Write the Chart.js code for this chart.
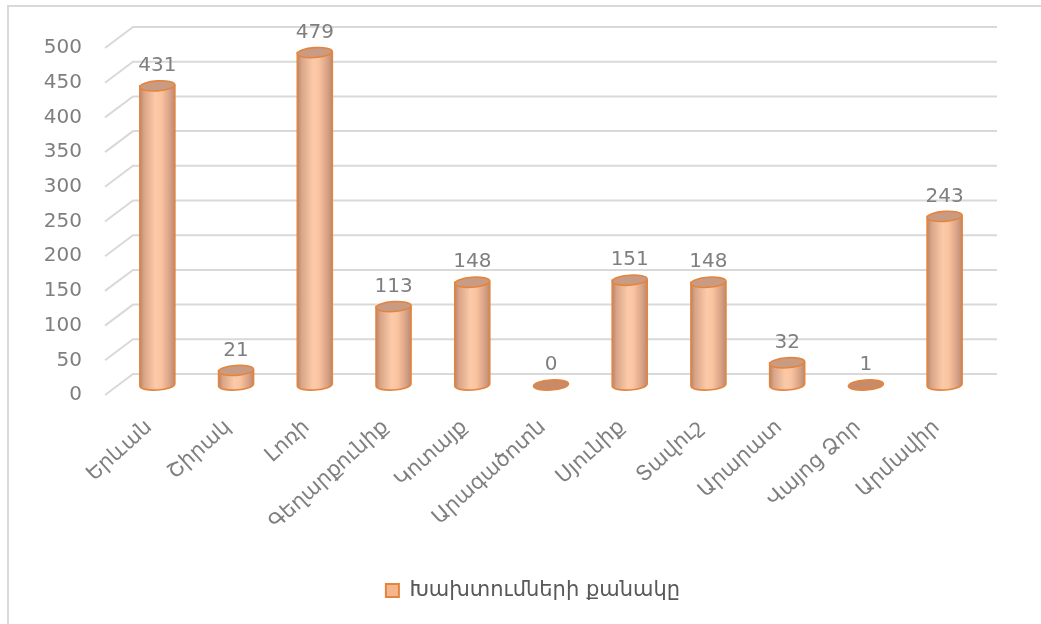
<!DOCTYPE html>
<html>
<head>
<meta charset="utf-8">
<script src="https://cdn.jsdelivr.net/npm/chart.js@4/dist/chart.umd.min.js"></script>
<style>
  html, body { margin: 0; padding: 0; background: #fff; }
  #wrap { position: relative; width: 1041px; height: 624px; }
  #frame { position: absolute; left: 7px; top: 5px; width: 1100px; height: 700px; border: 2px solid #d9d9d9; box-sizing: border-box; }
  canvas { position: absolute; left: 0; top: 0; }
</style>
</head>
<body>
<div id="wrap">
  <div id="frame"></div>
  <canvas id="chart" width="1041" height="624"></canvas>
</div>
<script>
// === DATA ===
const REGIONS = ["Երևան", "Շիրակ", "Լոռի", "Գեղարքունիք", "Կոտայք", "Արագածոտն", "Սյունիք", "Տավուշ", "Արարատ", "Վայոց Ձոր", "Արմավիր"];
const VIOLATIONS = [431, 21, 479, 113, 148, 0, 151, 148, 32, 1, 243];
const Y_TICKS = [0, 50, 100, 150, 200, 250, 300, 350, 400, 450, 500];
const SERIES_LABEL = "Խախտումների քանակը";

const FONT = "'DejaVu Sans', sans-serif";
const TEXT = "#7f7f7f";
const GRID = "#d9d9d9";
const EDGE = "#e4853d";

// back wall gridlines + perspective diagonals
const wallGrid = {
    id: "wallGrid",
    beforeDatasetsDraw(chart) {
        const { ctx, chartArea, scales } = chart;
        ctx.save();
        ctx.strokeStyle = GRID;
        ctx.lineWidth = 2;
        scales.y.ticks.forEach((t) => {
            const y = scales.y.getPixelForValue(t.value);
            ctx.beginPath();
            ctx.moveTo(chartArea.left - 13, y + 10);
            ctx.lineTo(chartArea.left + 15, y - 11);
            ctx.lineTo(chartArea.right + 13, y - 11);
            ctx.stroke();
        });
        ctx.restore();
    },
};

// cylinders drawn on the bar elements
const cylinders = {
    id: "cylinders",
    afterLayout(chart) {
        // legend sits a bit right of the plot centre
        chart.legend.left += 41;
        chart.legend.right += 41;
    },
    beforeDatasetDraw() {
        return false;
    },
    afterDatasetsDraw(chart) {
        const { ctx } = chart;
        const meta = chart.getDatasetMeta(0);
        const ds = chart.data.datasets[0];
        meta.data.forEach((bar, i) => {
            const { x, y, base, width } = bar.getProps(["x", "y", "base", "width"], true);
            const rx = width / 2;
            const ry = 5;
            const tilt = -0.07;
            ctx.save();
            ctx.lineWidth = 1.6;
            ctx.strokeStyle = EDGE;
            if (base - y > 2) {
                const g = ctx.createLinearGradient(x - rx, 0, x + rx, 0);
                g.addColorStop(0, "#b5866e");
                g.addColorStop(0.12, "#d9a487");
                g.addColorStop(0.45, "#fccaa9");
                g.addColorStop(0.62, "#f9c3a0");
                g.addColorStop(0.88, "#d49e82");
                g.addColorStop(1, "#b88a74");
                ctx.beginPath();
                ctx.moveTo(x - rx, y);
                ctx.lineTo(x - rx, base);
                ctx.ellipse(x, base, rx, ry, tilt, Math.PI, 0, true);
                ctx.lineTo(x + rx, y);
                ctx.closePath();
                ctx.fillStyle = g;
                ctx.fill();
                ctx.stroke();
                ctx.beginPath();
                ctx.ellipse(x, y, rx, ry, tilt, 0, Math.PI * 2);
                ctx.fillStyle = "#c99b83";
                ctx.fill();
                ctx.stroke();
            } else {
                ctx.beginPath();
                ctx.ellipse(x, base, rx, ry, tilt, 0, Math.PI * 2);
                ctx.fillStyle = "#c88b69";
                ctx.fill();
                ctx.stroke();
            }
            // value label
            ctx.fillStyle = TEXT;
            ctx.font = "20px " + FONT;
            ctx.textAlign = "center";
            ctx.textBaseline = "middle";
            ctx.fillText(String(ds.data[i]), x, y - 20);
            ctx.restore();
        });
    },
};

new Chart(document.getElementById("chart"), {
    type: "bar",
    data: {
        labels: REGIONS,
        datasets: [
            {
                label: SERIES_LABEL,
                data: VIOLATIONS,
                backgroundColor: "#f4b68f",
                borderColor: EDGE,
                borderWidth: 2,
                categoryPercentage: 1,
                barPercentage: 0.445,
            },
        ],
    },
    options: {
        responsive: false,
        animation: false,
        layout: { padding: { top: 38, right: 57, left: 0, bottom: 13 } },
        plugins: {
            tooltip: { enabled: false },
            legend: {
                position: "bottom",
                labels: {
                    color: "#595959",
                    font: { family: FONT, size: 21 },
                    boxWidth: 13,
                    boxHeight: 13,
                },
            },
        },
        scales: {
            y: {
                min: 0,
                max: 500,
                afterBuildTicks: (s) => {
                    s.ticks = Y_TICKS.map((v) => ({ value: v }));
                },
                afterFit: (s) => {
                    s.width = 118;
                    s.paddingTop = 0;
                    s.paddingBottom = 0;
                },
                grid: { display: false, drawTicks: false },
                border: { display: false },
                ticks: {
                    color: TEXT,
                    font: { family: FONT, size: 20 },
                    padding: 36,
                    labelOffset: 10,
                },
            },
            x: {
                afterFit: (s) => {
                    s.height = 185;
                },
                grid: { display: false, drawTicks: false },
                border: { display: false },
                ticks: {
                    color: TEXT,
                    font: { family: FONT, size: 21 },
                    autoSkip: false,
                    maxRotation: 42,
                    minRotation: 42,
                    padding: 30,
                    labelOffset: -8,
                },
            },
        },
    },
    plugins: [wallGrid, cylinders],
});
</script>
</body>
</html>
